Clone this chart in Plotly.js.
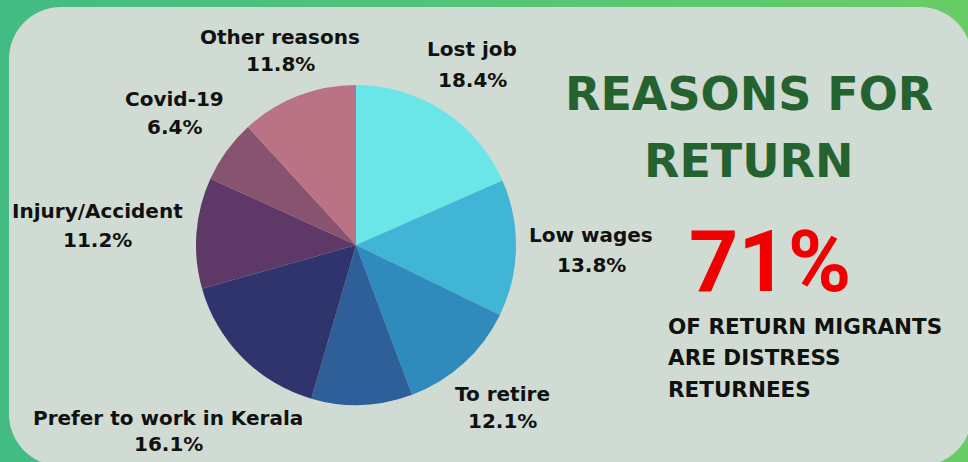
<!DOCTYPE html>
<html>
<head>
<meta charset="utf-8">
<script src="https://cdn.plot.ly/plotly-3.0.1.min.js"></script>
<style>
  html, body { margin: 0; padding: 0; }
  body { width: 968px; height: 462px; overflow: hidden; position: relative;
         background: linear-gradient(90deg, #42bc84 0%, #55c478 50%, #68cc66 100%); }
  #panel { position: absolute; left: 9px; top: 7px; right: -4px; bottom: -4px;
           background: #d0dbd3; border-radius: 52px; }
  #chart { position: absolute; left: 0; top: 0; width: 968px; height: 462px; }
</style>
</head>
<body>
<div id="panel"></div>
<div id="chart"></div>
<script>
// ---- data ----
const categories = ['Lost job', 'Low wages', 'To retire', 'Unlabeled', 'Prefer to work in Kerala', 'Injury/Accident', 'Covid-19', 'Other reasons'];
const shares = [18.4, 13.8, 12.1, 10.2, 16.1, 11.2, 6.4, 11.8];
const showLabel = [true, true, true, false, true, true, true, true];
const titleLines = ['REASONS FOR', 'RETURN'];
const headline = '71%';
const subLines = ['OF RETURN MIGRANTS', 'ARE DISTRESS', 'RETURNEES'];

// ---- styles / layout ----
const sliceColors = ['#6ae5e8', '#40b5d6', '#2e8bbb', '#2e5f98', '#30346c', '#5e3866', '#87536f', '#b97385'];
// label placement (pixels): [centre x, name y, percent y]
const labelAnchors = [[472, 49, 80], [591, 235, 265], [503, 394, 421], null, [168, 418, 444], [97, 211, 240], [174, 99, 127], [280, 37, 64]];

const W = 968, H = 462;
const px = x => x / W;
const py = y => 1 - y / H;
const cx = 356, cy = 245, R = 160;

const mainPie = {
  type: 'pie', labels: categories, values: shares, sort: false, direction: 'clockwise', rotation: 0,
  textinfo: 'none',
  marker: { colors: sliceColors, line: { width: 0 } },
  domain: { x: [px(cx - R), px(cx + R)], y: [py(cy + R), py(cy - R)] },
  showlegend: false
};

const labelFont = { family: 'DejaVu Sans', size: 20, color: '#111111', weight: 'bold' };
const annotations = [];
categories.forEach((c, i) => {
  if (!showLabel[i]) return;
  const a = labelAnchors[i];
  annotations.push({ text: c, xref: 'paper', yref: 'paper', x: px(a[0]), y: py(a[1]),
    xanchor: 'center', yanchor: 'middle', showarrow: false, font: labelFont });
  annotations.push({ text: shares[i].toFixed(1) + '%', xref: 'paper', yref: 'paper', x: px(a[0]), y: py(a[2]),
    xanchor: 'center', yanchor: 'middle', showarrow: false, font: labelFont });
});

const titleY = [94, 161];
titleLines.forEach((t, i) => annotations.push({
  text: t, xref: 'paper', yref: 'paper', x: px(749), y: py(titleY[i]), xanchor: 'center', yanchor: 'middle',
  showarrow: false, font: { family: 'DejaVu Sans', size: 46, color: '#24622f', weight: 'bold' }
}));
annotations.push({
  text: headline, xref: 'paper', yref: 'paper', x: px(770), y: py(261), xanchor: 'center', yanchor: 'middle',
  showarrow: false, font: { family: 'Roboto', size: 86, color: '#f00000', weight: 'bold' }
});
const subY = [326, 357, 389];
subLines.forEach((t, i) => annotations.push({
  text: t, xref: 'paper', yref: 'paper', x: px(666), y: py(subY[i]), xanchor: 'left', yanchor: 'middle',
  showarrow: false, font: { family: 'DejaVu Sans', size: 21.5, color: '#111111', weight: 'bold' }
}));

const layout = {
  width: W, height: H, margin: { l: 0, r: 0, t: 0, b: 0 },
  paper_bgcolor: 'rgba(0,0,0,0)', plot_bgcolor: 'rgba(0,0,0,0)',
  showlegend: false, annotations: annotations
};

Plotly.newPlot('chart', [mainPie], layout, { displayModeBar: false, staticPlot: true });
</script>
</body>
</html>
